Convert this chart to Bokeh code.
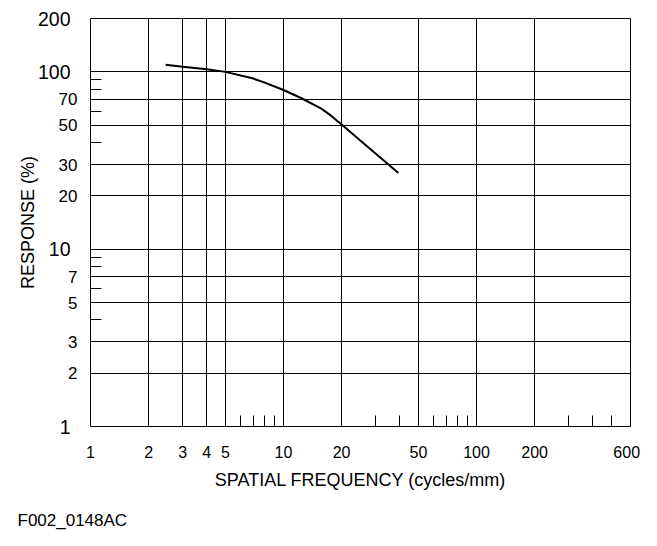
from bokeh.plotting import figure
from bokeh.models import FixedTicker, Title, LogAxis
from bokeh.embed import file_html
from bokeh.resources import INLINE

# ---- data ----
freq = [2.45, 3, 4, 5, 6.9, 8, 10, 12.4, 15.7, 17.5, 20, 25, 31.6, 39.4]
response = [109.6, 107, 103.5, 100, 92, 87, 79, 71, 62, 57, 50.5, 41, 33, 26.9]

x_label_ticks = [1, 2, 3, 4, 5, 10, 20, 50, 100, 200, 600]
x_grid_ticks = [2, 3, 4, 5, 10, 20, 50, 100, 200]
x_minor_ticks = [6, 7, 8, 9, 30, 40, 60, 70, 80, 90, 300, 400, 500]

y_small_label_ticks = [2, 3, 5, 7, 20, 30, 50, 70]
y_big_label_ticks = [1, 10, 100, 200]
y_grid_ticks = [2, 3, 5, 7, 10, 20, 30, 50, 70, 100]
y_minor_ticks = [4, 6, 8, 9, 40, 60, 80, 90]

FONT = "Liberation Sans"

p = figure(width=641, height=546, x_axis_type="log", y_axis_type="log",
           x_range=(1, 628), y_range=(1, 200),
           output_backend="svg", toolbar_location=None,
           min_border_left=90, min_border_right=11,
           min_border_top=18, min_border_bottom=120)

p.background_fill_color = "white"
p.border_fill_color = "white"
p.outline_line_color = "black"
p.outline_line_alpha = 1
p.outline_line_width = 1

# grids
p.xgrid.ticker = FixedTicker(ticks=x_grid_ticks)
p.ygrid.ticker = FixedTicker(ticks=y_grid_ticks)
for g in (p.xgrid, p.ygrid):
    g.grid_line_color = "black"
    g.grid_line_alpha = 1
    g.grid_line_width = 1

# x axis
xa = p.xaxis[0]
xa.ticker = FixedTicker(ticks=x_label_ticks, minor_ticks=x_minor_ticks)
xa.major_label_overrides = {t: str(t) for t in x_label_ticks}
xa.axis_line_color = None
xa.major_tick_in = 0
xa.major_tick_out = 0
xa.minor_tick_in = 11
xa.minor_tick_out = 0
xa.minor_tick_line_color = "black"
xa.major_label_text_font = FONT
xa.major_label_text_font_size = "16px"
xa.major_label_text_color = "black"
xa.major_label_standoff = 19
xa.axis_label = "SPATIAL FREQUENCY (cycles/mm)"
xa.axis_label_text_font = FONT
xa.axis_label_text_font_size = "18px"
xa.axis_label_text_font_style = "normal"
xa.axis_label_text_color = "black"
xa.axis_label_standoff = 9

# inner y axis: intermediate values, smaller labels, inward minor ticks
ya = p.yaxis[0]
ya.ticker = FixedTicker(ticks=y_small_label_ticks, minor_ticks=y_minor_ticks)
ya.major_label_overrides = {t: str(t) for t in y_small_label_ticks}
ya.axis_line_color = None
ya.major_tick_in = 0
ya.major_tick_out = 0
ya.minor_tick_in = 11
ya.minor_tick_out = 0
ya.minor_tick_line_color = "black"
ya.major_label_text_font = FONT
ya.major_label_text_font_size = "17px"
ya.major_label_text_color = "black"
ya.major_label_standoff = 13

# outer y axis: decade values, larger labels, carries the title
ya2 = LogAxis(ticker=FixedTicker(ticks=y_big_label_ticks))
ya2.major_label_overrides = {t: str(t) for t in y_big_label_ticks}
ya2.axis_line_color = None
ya2.major_tick_in = 0
ya2.major_tick_out = 0
ya2.minor_tick_in = 0
ya2.minor_tick_out = 0
ya2.major_label_text_font = FONT
ya2.major_label_text_font_size = "19.5px"
ya2.major_label_text_color = "black"
ya2.major_label_standoff = -15
ya2.axis_label = "RESPONSE (%)"
ya2.axis_label_text_font = FONT
ya2.axis_label_text_font_size = "18px"
ya2.axis_label_text_font_style = "normal"
ya2.axis_label_text_color = "black"
ya2.axis_label_standoff = -3
p.add_layout(ya2, "left")

# response curve
p.line(freq, response, line_color="black", line_width=2)

# footer code
p.add_layout(Title(text="F002_0148AC", align="left", offset=-73, standoff=32,
                   text_font=FONT, text_font_size="17px",
                   text_font_style="normal", text_color="black"), "below")

open("out.html", "w").write(file_html(p, INLINE))
